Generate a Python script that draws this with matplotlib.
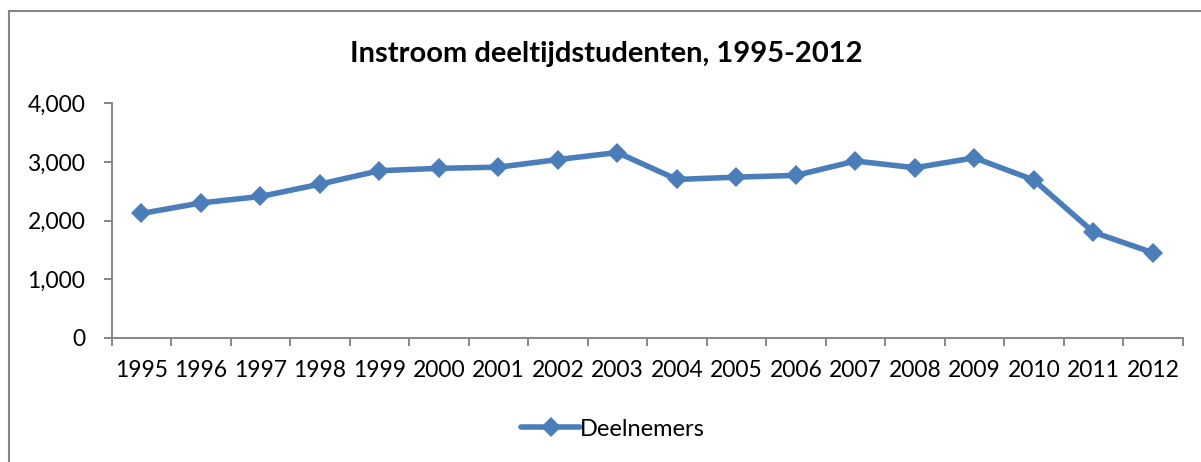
import matplotlib
matplotlib.use("Agg")
import matplotlib.pyplot as plt
from matplotlib.lines import Line2D
from matplotlib.ticker import FixedLocator, NullFormatter

years = ["1995", "1996", "1997", "1998", "1999", "2000", "2001", "2002", "2003",
         "2004", "2005", "2006", "2007", "2008", "2009", "2010", "2011", "2012"]
deelnemers = [2120, 2300, 2410, 2620, 2850, 2890, 2910, 3040, 3160,
              2700, 2740, 2770, 3015, 2900, 3070, 2690, 1800, 1450]
y_ticks = [0, 1000, 2000, 3000, 4000]
y_labels = ["0", "1,000", "2,000", "3,000", "4,000"]
title = "Instroom deeltijdstudenten, 1995-2012"
series_name = "Deelnemers"

plt.rcParams['font.family'] = ['Lato', 'DejaVu Sans']

W, H = 1201, 462
fig = plt.figure(figsize=(W / 100, H / 100), dpi=100)
ax = fig.add_axes([111.7 / W, 1 - 337.7 / H, (1182.7 - 111.7) / W, (337.7 - 103.3) / H])

blue = "#4A7EBB"
gray = "#868686"
x = list(range(len(years)))
ax.plot(x, deelnemers, color=blue, lw=4, marker="D", markersize=10.5,
        markeredgewidth=0, solid_capstyle="round", solid_joinstyle="round",
        label=series_name, clip_on=False)

ax.set_xlim(-0.5, len(years) - 0.5)
ax.set_ylim(0, 4000)
ax.xaxis.set_major_locator(FixedLocator([i - 0.5 for i in range(len(years) + 1)]))
ax.xaxis.set_major_formatter(NullFormatter())
ax.xaxis.set_minor_locator(FixedLocator(x))
ax.set_xticklabels(years, minor=True)
ax.set_yticks(y_ticks)
ax.set_yticklabels(y_labels)

for s in ["top", "right"]:
    ax.spines[s].set_visible(False)
for s in ["left", "bottom"]:
    ax.spines[s].set_color(gray)
    ax.spines[s].set_linewidth(1.4)

ax.tick_params(axis="x", which="major", direction="out", length=6, width=1.4, color=gray)
ax.tick_params(axis="x", which="minor", length=0, pad=16, labelsize=16.5)
ax.tick_params(axis="y", direction="out", length=6, width=1.4, color=gray, pad=13, labelsize=16.5)

fig.text(606 / W, 1 - 54 / H, title, ha="center", va="center", fontsize=21, fontweight="bold")

leg = fig.legend(loc="center", bbox_to_anchor=(613 / W, 1 - 429 / H), frameon=False,
                 fontsize=17, handlelength=2.5, handletextpad=0.0)

# outer chart border
fig.add_artist(Line2D([8.5 / W, 8.5 / W], [1 - 11 / H, 0], transform=fig.transFigure, color=gray, lw=1.5))
fig.add_artist(Line2D([8.5 / W, 1], [1 - 11 / H, 1 - 11 / H], transform=fig.transFigure, color=gray, lw=1.5))

fig.savefig("out.png", dpi=100)
